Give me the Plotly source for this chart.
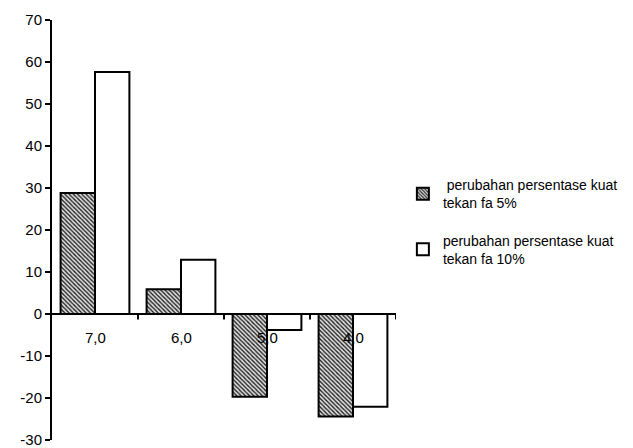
import plotly.graph_objects as go

# Concrete strength change per category
categories = ["7,0", "6,0", "5,0", "4,0"]
change_fa5 = [28.8, 5.9, -19.7, -24.4]
change_fa10 = [57.6, 12.9, -3.8, -22.1]
series_names = [
    " perubahan persentase kuat<br>tekan fa 5%",
    "perubahan persentase kuat<br>tekan fa 10%",
]
y_ticks = [-30, -20, -10, 0, 10, 20, 30, 40, 50, 60, 70]
y_tick_labels = [str(v) for v in y_ticks]

FONT = "Liberation Sans, Arial, sans-serif"
idx = list(range(len(categories)))

fig = go.Figure()
fig.add_trace(go.Bar(
    x=idx, y=change_fa5, name=series_names[0], legendgroup="a",
    marker=dict(
        color="white",
        line=dict(color="black", width=2),
        pattern=dict(shape="\\", size=3, solidity=0.45,
                     fgcolor="#222222", bgcolor="#e0e0e0", fillmode="replace"),
    ),
))
fig.add_trace(go.Bar(
    x=idx, y=change_fa10, name=series_names[1], legendgroup="b",
    marker=dict(color="white", line=dict(color="black", width=2)),
))

# Horizontal category axis crossing at zero, with ticks between groups
shapes = [dict(type="line", xref="x", yref="y", x0=-0.5, x1=len(categories) - 0.5,
               y0=0, y1=0, line=dict(color="black", width=2), layer="above")]
for b in range(len(categories)):
    shapes.append(dict(type="line", xref="x", yref="y", x0=b + 0.5, x1=b + 0.5,
                       y0=0, y1=-1.3, line=dict(color="black", width=2), layer="above"))

annotations = [dict(x=i, y=0, xref="x", yref="y", text=c, showarrow=False,
                    yshift=-23, font=dict(family=FONT, size=15, color="black"))
               for i, c in zip(idx, categories)]

fig.update_layout(
    width=633, height=448,
    margin=dict(l=52, r=237, t=20, b=8, autoexpand=False),
    paper_bgcolor="white", plot_bgcolor="white",
    barmode="group", bargap=0.2, bargroupgap=0,
    font=dict(family=FONT, size=14, color="black"),
    showlegend=True,
    legend=dict(x=1.02, y=0.645, xanchor="left", yanchor="top",
                traceorder="grouped", tracegroupgap=16,
                font=dict(family=FONT, size=14, color="black"),
                itemwidth=30, bgcolor="rgba(0,0,0,0)"),
    shapes=shapes,
    annotations=annotations,
)
fig.update_xaxes(range=[-0.5, len(categories) - 0.5], showticklabels=False,
                 showline=False, showgrid=False, zeroline=False, ticks="")
fig.update_yaxes(range=[-30, 70], tickvals=y_ticks, ticktext=y_tick_labels,
                 ticks="outside", ticklen=5, ticklabeloverflow="allow",
                 tickwidth=2, tickcolor="black", showline=True, linecolor="black",
                 linewidth=2, showgrid=False, zeroline=False,
                 tickfont=dict(family=FONT, size=15, color="black"))

fig.write_html("out.html")
